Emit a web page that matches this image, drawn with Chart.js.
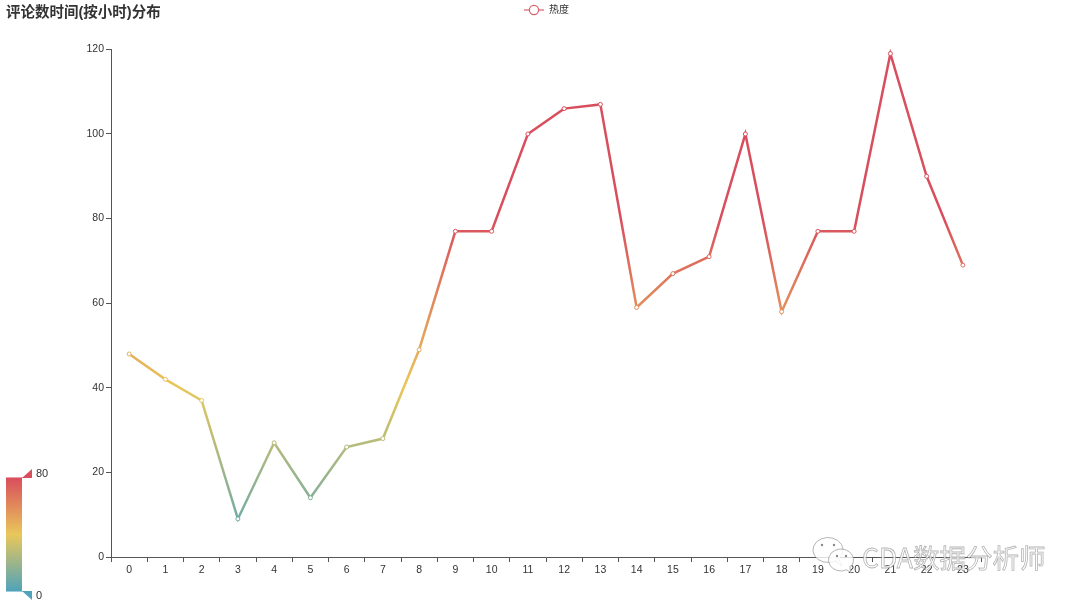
<!DOCTYPE html>
<html><head><meta charset="utf-8">
<style>html,body{margin:0;padding:0;background:#fff}#w{width:1080px;height:606px;position:relative}</style>
<script src="https://cdn.jsdelivr.net/npm/chart.js@4"></script>
</head><body><div id="w"><canvas id="c" width="1080" height="606"></canvas></div>
<script>
const hours = ['0','1','2','3','4','5','6','7','8','9','10','11','12','13','14','15','16','17','18','19','20','21','22','23'];
const heat = [48,42,37,9,27,14,26,28,49,77,77,100,106,107,59,67,71,100,58,77,77,119,90,69];
const seriesName = '热度';
const chartTitle = '评论数时间(按小时)分布';
const rangeMin = 0, rangeMax = 80;
const rangeColors = ['#50a3ba','#e9c75a','#d94e5d'];
const watermark = 'CDA数据分析师';
const latin = '"Liberation Sans", Arial, sans-serif';
const cjk = '"Liberation Sans", "Noto Sans CJK SC", sans-serif';

function grad(ctx, top, bottom){
  const g = ctx.createLinearGradient(0, bottom, 0, top);
  rangeColors.forEach((c,i)=>g.addColorStop(i/(rangeColors.length-1), c));
  return g;
}
function heatGrad(c){
  const chart = c.chart;
  if(!chart.chartArea || !chart.scales.y) return rangeColors[2];
  return grad(chart.ctx, chart.scales.y.getPixelForValue(rangeMax), chart.scales.y.getPixelForValue(rangeMin));
}
const sym = document.createElement('canvas'); sym.width = 20; sym.height = 14;
(function(){const x = sym.getContext('2d'); x.strokeStyle = '#dc5f6d'; x.lineWidth = 1.2;
  x.beginPath(); x.moveTo(0,7); x.lineTo(20,7); x.stroke();
  x.beginPath(); x.arc(10,7,4.6,0,Math.PI*2); x.fillStyle='#fff'; x.fill(); x.stroke();})();

const overlay = {
  id:'overlay',
  afterLayout(chart){
    chart.legend.top = -1; chart.legend.left += 56; chart.legend.right += 56;
    chart.titleBlock.left = 6; chart.titleBlock.right += 6;
  },
  afterDraw(chart){
    const x = chart.ctx; x.save();
    // visual map
    const L=6,R=22,T=478,B=591;
    x.fillStyle = grad(x,T,B); x.fillRect(L,T,R-L,B-T);
    x.fillStyle='rgba(217,78,93,.55)'; x.fillRect(L,T-1,R-L+10,1);
    x.fillStyle='rgba(80,163,186,.55)'; x.fillRect(L,B,R-L+10,1);
    x.fillStyle=rangeColors[2]; x.beginPath(); x.moveTo(22,478); x.lineTo(32,478); x.lineTo(32,469); x.fill();
    x.fillStyle=rangeColors[0]; x.beginPath(); x.moveTo(22,591); x.lineTo(32,591); x.lineTo(32,600); x.fill();
    x.fillStyle='#333'; x.font='11px '+latin; x.textBaseline='middle'; x.textAlign='left';
    x.fillText(String(rangeMax),36,474); x.fillText(String(rangeMin),36,596);
    // watermark
    x.lineWidth=1; x.strokeStyle='rgba(150,150,150,.7)'; x.fillStyle='rgba(255,255,255,.8)';
    const bub=(cx,cy,rx,ry,tx,ty)=>{x.beginPath(); x.ellipse(cx,cy,rx,ry,0,0.35*Math.PI,2.25*Math.PI);
      x.lineTo(tx,ty); x.closePath(); x.fill(); x.stroke();};
    bub(828,550,15,12.5,842,566);
    bub(841,560,12.5,11,851,573);
    x.fillStyle='#888';
    [[822,545],[834,545],[837,556],[846,556]].forEach(p=>{x.beginPath(); x.arc(p[0],p[1],1.2,0,7); x.fill();});
    x.font='26.5px "Noto Sans CJK SC", '+latin; x.textBaseline='middle';
    x.fillStyle='rgba(255,255,255,.8)'; x.strokeStyle='rgba(140,140,140,.65)'; x.lineWidth=.8;
    x.fillText(watermark,862,558); x.strokeText(watermark,862,558);
    x.restore();
  }
};

new Chart(document.getElementById('c'),{
  type:'line',
  data:{labels:hours,datasets:[{label:seriesName,data:heat,
    borderColor:heatGrad,backgroundColor:'#fff',borderWidth:2.5,fill:false,tension:0,
    pointRadius:2,pointHoverRadius:2,pointBackgroundColor:'#fff',pointBorderColor:heatGrad,pointBorderWidth:1,clip:false}]},
  options:{responsive:false,animation:false,devicePixelRatio:1,
    layout:{padding:{top:0,right:99,left:0,bottom:0}},
    plugins:{
      tooltip:{enabled:false},
      title:{display:true,text:chartTitle,align:'start',color:'#333',
        font:{family:cjk,size:14.5,weight:'bold'},padding:{top:4,bottom:2}},
      legend:{display:true,position:'top',align:'center',
        labels:{usePointStyle:true,pointStyle:sym,pointStyleWidth:20,boxHeight:10,color:'#333',
          font:{family:cjk,size:10},padding:6}}
    },
    scales:{
      x:{type:'category',offset:true,
        grid:{offset:true,drawOnChartArea:false,drawTicks:true,tickLength:5,color:'#555'},
        border:{color:'#555',width:1},
        ticks:{color:'#333',font:{family:latin,size:10.5},padding:2,maxRotation:0,autoSkip:false},
        afterFit(s){s.height=49;}},
      y:{min:0,max:120,
        grid:{drawOnChartArea:false,drawTicks:true,tickLength:5,color:'#555'},
        border:{color:'#555',width:1},
        ticks:{stepSize:20,color:'#333',font:{family:latin,size:10.5},padding:2},
        afterFit(s){s.width=111;}}
    }
  },
  plugins:[overlay]
});
</script></body></html>
